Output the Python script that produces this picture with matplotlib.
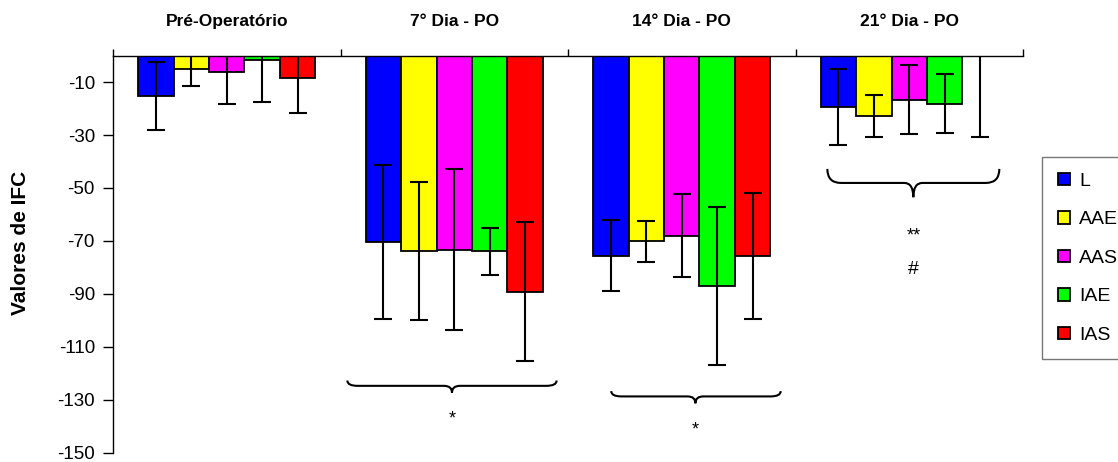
import matplotlib
matplotlib.use("Agg")
import matplotlib.pyplot as plt
import numpy as np
from matplotlib.path import Path
from matplotlib.patches import PathPatch

plt.rcParams['font.family'] = ['Liberation Sans', 'DejaVu Sans']
plt.rcParams['axes.unicode_minus'] = False

categories = ['Pré-Operatório', '7° Dia - PO', '14° Dia - PO', '21° Dia - PO']
series = ['L', 'AAE', 'AAS', 'IAE', 'IAS']
colors = ['#0000FF', '#FFFF00', '#FF00FF', '#00FF00', '#FF0000']

L_mean = [-15.3, -70.5, -75.6, -19.4]
L_err = [12.8, 29.0, 13.5, 14.3]
AAE_mean = [-4.9, -73.8, -70.2, -22.9]
AAE_err = [6.4, 26.1, 7.7, 7.9]
AAS_mean = [-6.2, -73.3, -68.0, -16.6]
AAS_err = [12.0, 30.4, 15.6, 12.9]
IAE_mean = [-1.6, -74.0, -87.0, -18.2]
IAE_err = [15.9, 8.9, 29.8, 11.2]
IAS_mean = [-8.5, -89.2, -75.7, 0.0]
IAS_err = [13.2, 26.2, 23.9, 30.7]

yticks = [-10, -30, -50, -70, -90, -110, -130, -150]

means = [L_mean, AAE_mean, AAS_mean, IAE_mean, IAS_mean]
errs = [L_err, AAE_err, AAS_err, IAE_err, IAS_err]

fig = plt.figure(figsize=(11.18, 4.62), dpi=100)
ax = fig.add_axes([113/1118, 1-452.5/462, 910/1118, (452.5-55.7)/462])

x = np.arange(len(categories))
w = 0.156
handles = []
for i, (name, m, e, c) in enumerate(zip(series, means, errs, colors)):
    pos = x + (i - 2) * w
    b = ax.bar(pos, m, width=w, color=c, edgecolor='black', linewidth=1.3,
               label=name, zorder=2)
    ax.errorbar(pos, m, yerr=e, fmt='none', ecolor='black', elinewidth=1.5,
                capsize=6.5, capthick=1.5, zorder=3)
    handles.append(b)

ax.set_xlim(-0.5, 3.5)
ax.set_ylim(-150, 0)
ax.set_yticks(yticks)
ax.tick_params(axis='y', labelsize=13.5, length=7, width=1, pad=6, direction='out')
ax.xaxis.tick_top()
ax.set_xticks([-0.5, 0.5, 1.5, 2.5, 3.5])
ax.set_xticklabels([])
ax.tick_params(axis='x', length=5, width=1, direction='out')
for s in ['right', 'bottom']:
    ax.spines[s].set_visible(False)
ax.spines['left'].set_linewidth(1)
ax.spines['top'].set_linewidth(1)

trans = ax.get_xaxis_transform()
for xi, cat in zip(x, categories):
    ax.text(xi, 1.085, cat, transform=trans, ha='center', va='center',
            fontsize=12.5, fontweight='bold')

fig.text(21/1118, 1-243/462, 'Valores de IFC', rotation=90, ha='center',
         va='center', fontsize=15, fontweight='bold')


def brace(x0, x1, xc, ytop, ymid, ytip, r, r2):
    verts = [(x0, ytop), (x0, ymid), (x0 + r, ymid),
             (xc - r2, ymid), (xc, ymid), (xc, ytip),
             (xc, ymid), (xc + r2, ymid),
             (x1 - r, ymid), (x1, ymid), (x1, ytop)]
    codes = [Path.MOVETO, Path.CURVE3, Path.CURVE3,
             Path.LINETO, Path.CURVE3, Path.CURVE3,
             Path.CURVE3, Path.CURVE3,
             Path.LINETO, Path.CURVE3, Path.CURVE3]
    p = PathPatch(Path(verts, codes), facecolor='none', edgecolor='black',
                  linewidth=1.5, clip_on=False, zorder=4)
    ax.add_patch(p)


brace(0.53, 1.45, 0.99, -122.8, -124.8, -127.4, 0.045, 0.035)
ax.text(0.99, -137.5, '*', ha='center', va='center', fontsize=13)
brace(1.69, 2.435, 2.06, -126.8, -128.8, -131.4, 0.045, 0.035)
ax.text(2.06, -141.3, '*', ha='center', va='center', fontsize=13)
brace(2.64, 3.396, 3.018, -42.8, -48.1, -53.5, 0.06, 0.04)
ax.text(3.018, -68.0, '**', ha='center', va='center', fontsize=13)
ax.text(3.018, -80.7, '#', ha='center', va='center', fontsize=14)

leg = fig.legend(handles=handles, labels=series, loc='upper left',
                 bbox_to_anchor=(1042/1118, 1-157/462), fontsize=14,
                 frameon=True, fancybox=False, edgecolor='#555555',
                 handlelength=0.62, handleheight=0.62, handletextpad=0.5,
                 labelspacing=1.1, borderpad=0.8, borderaxespad=0)
leg.get_frame().set_linewidth(1)

fig.savefig('out.png', dpi=100)
